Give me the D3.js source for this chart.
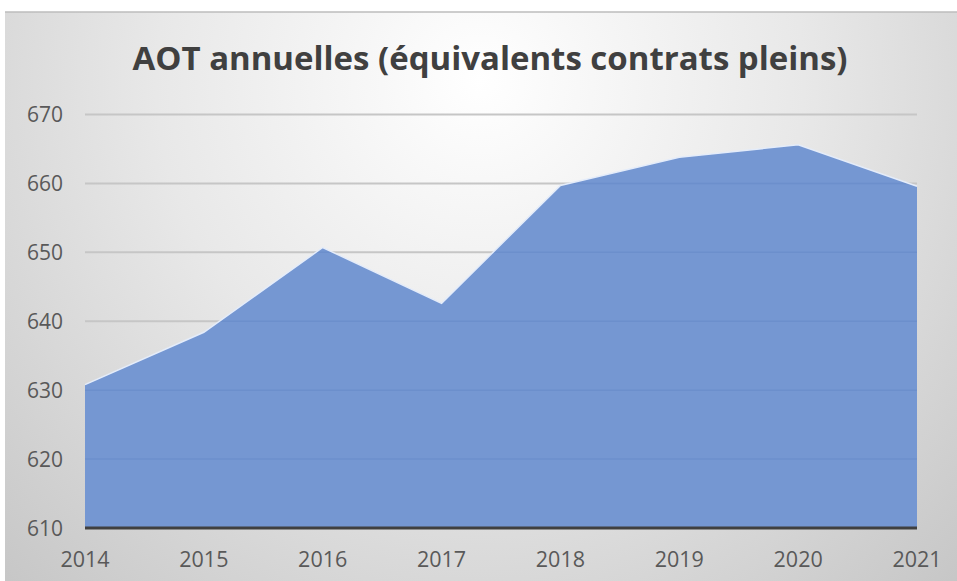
<!DOCTYPE html>
<html><head><meta charset="utf-8">
<script src="https://cdn.jsdelivr.net/npm/d3@7"></script>
<style>html,body{margin:0;padding:0;background:#fff;}svg{display:block;}</style>
</head><body>
<script>
const years = [2014, 2015, 2016, 2017, 2018, 2019, 2020, 2021];
const values = [630.8, 638.4, 650.7, 642.6, 659.7, 663.8, 665.6, 659.6];
const yTicks = [610, 620, 630, 640, 650, 660, 670];
const title = "AOT annuelles (équivalents contrats pleins)";

const W = 957, H = 581;
const svg = d3.select("body").append("svg").attr("width", W).attr("height", H);
const defs = svg.append("defs");
const grad = defs.append("radialGradient").attr("id","bg")
  .attr("gradientUnits","userSpaceOnUse").attr("cx",480).attr("cy",80).attr("r",720);
grad.append("stop").attr("offset","0").attr("stop-color","#ffffff");
grad.append("stop").attr("offset","0.45").attr("stop-color","#e8e8e8");
grad.append("stop").attr("offset","1").attr("stop-color","#c4c4c4");

svg.append("rect").attr("x",5).attr("y",12).attr("width",W-5).attr("height",H-12).attr("fill","url(#bg)");
svg.append("line").attr("x1",5).attr("x2",W).attr("y1",12).attr("y2",12).attr("stroke","#bdbdbd").attr("stroke-width",1.5);

const x = d3.scaleLinear().domain([2014, 2021]).range([85, 917]);
const y = d3.scaleLinear().domain([610, 670]).range([528, 114.5]);

const data = years.map((yr, i) => ({yr, v: values[i]}));
const area = d3.area().x(d => x(d.yr)).y0(y(610)).y1(d => y(d.v));

defs.append("clipPath").attr("id","areaClip").append("path").datum(data).attr("d", area);

// gridlines
svg.append("g").selectAll("line").data(yTicks.filter(t => t !== 610)).join("line")
  .attr("x1", 85).attr("x2", 917).attr("y1", d => y(d)).attr("y2", d => y(d))
  .attr("stroke", "#c6c6c6").attr("stroke-width", 2);

svg.append("path").datum(data).attr("d", area).attr("fill", "#7597d2");

// faint gridlines visible through the area
svg.append("g").attr("clip-path","url(#areaClip)").selectAll("line").data(yTicks.filter(t => t !== 610)).join("line")
  .attr("x1", 85).attr("x2", 917).attr("y1", d => y(d)).attr("y2", d => y(d))
  .attr("stroke", "#5a7fc0").attr("stroke-opacity", 0.3).attr("stroke-width", 1.5);

const line = d3.line().x(d => x(d.yr)).y(d => y(d.v));
svg.append("path").datum(data).attr("d", line).attr("fill", "none")
  .attr("stroke", "#e4ecfa").attr("stroke-width", 1.5);

// base axis
svg.append("line").attr("x1", 85).attr("x2", 917).attr("y1", y(610)).attr("y2", y(610))
  .attr("stroke", "#404040").attr("stroke-width", 3);

// y labels
svg.append("g").selectAll("text").data(yTicks).join("text")
  .attr("x", 63).attr("y", d => y(d) + 7.8).attr("text-anchor", "end")
  .attr("font-family", "'Open Sans', sans-serif").attr("font-size", 21).attr("fill", "#595959")
  .text(d => d);

// x labels
svg.append("g").selectAll("text").data(years).join("text")
  .attr("x", d => x(d)).attr("y", 566.5).attr("text-anchor", "middle")
  .attr("font-family", "'Open Sans', sans-serif").attr("font-size", 21.5).attr("fill", "#595959")
  .text(d => d);

svg.append("text").attr("x", 490).attr("y", 70).attr("text-anchor", "middle")
  .attr("font-family", "'Open Sans', sans-serif").attr("font-weight", "bold").attr("font-size", 32)
  .attr("fill", "#404040").attr("textLength", 715).attr("lengthAdjust", "spacingAndGlyphs")
  .text(title);
</script>
</body></html>
